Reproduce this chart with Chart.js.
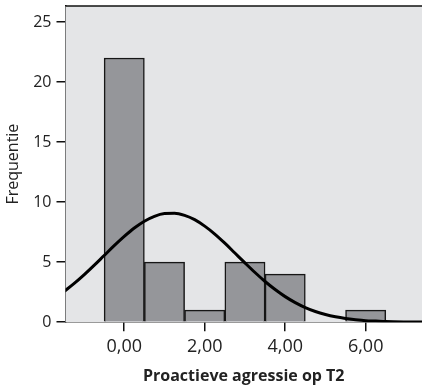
<!DOCTYPE html>
<html>
<head>
<meta charset="utf-8">
<script src="https://cdn.jsdelivr.net/npm/chart.js@4/dist/chart.umd.min.js"></script>
<style>
  html, body { margin: 0; padding: 0; background: #ffffff; }
  #wrap { width: 422px; height: 390px; }
</style>
</head>
<body>
<div id="wrap"><canvas id="c" width="422" height="390"></canvas></div>
<script>
// Histogram bins (value of each bin centre) and their frequencies
const binCentres = [0, 1, 2, 3, 4, 5, 6];
const frequencies = [22, 5, 1, 5, 4, 0, 1];

// Fitted normal curve, sampled along the x axis
const curveX = [-1.5, -1.25, -1, -0.75, -0.5, -0.25, 0, 0.25, 0.5, 0.75, 1, 1.25, 1.5, 1.75,
                2, 2.25, 2.5, 2.75, 3, 3.25, 3.5, 3.75, 4, 4.25, 4.5, 4.75, 5, 5.25, 5.5, 5.75,
                6, 6.25, 6.5, 7, 7.5];
const curveY = [2.55, 3.21, 3.94, 4.73, 5.55, 6.37, 7.14, 7.84, 8.41, 8.82, 9.05, 9.08, 8.90, 8.54,
                8.00, 7.34, 6.58, 5.76, 4.94, 4.14, 3.39, 2.72, 2.13, 1.63, 1.22, 0.89, 0.64, 0.45, 0.31, 0.21,
                0.13, 0.09, 0.05, 0.02, 0.01];

// Axis ticks
const xTickValues = [0, 2, 4, 6];
const xTickLabels = ['0,00', '2,00', '4,00', '6,00'];
const yTickValues = [0, 5, 10, 15, 20, 25];

const FONT = '"Open Sans", "DejaVu Sans", sans-serif';

const plotFrame = {
  id: 'plotFrame',
  beforeDatasetsDraw(chart) {
    const { ctx, chartArea: a } = chart;
    ctx.save();
    ctx.fillStyle = '#e4e5e7';
    ctx.fillRect(a.left, a.top, a.right - a.left, a.bottom - a.top);
    ctx.restore();
  },
  afterDraw(chart) {
    const { ctx, chartArea: a } = chart;
    ctx.save();
    ctx.strokeStyle = '#111111';
    ctx.lineWidth = 1.5;
    ctx.beginPath();
    ctx.moveTo(a.left, a.top);
    ctx.lineTo(a.right, a.top);
    ctx.stroke();
    ctx.restore();
  }
};

new Chart(document.getElementById('c'), {
  data: {
    datasets: [
      {
        type: 'line',
        order: 0,
        data: curveX.map((x, i) => ({ x: x, y: curveY[i] })),
        borderColor: '#000000',
        borderWidth: 3,
        pointRadius: 0,
        fill: false,
        cubicInterpolationMode: 'monotone'
      },
      {
        type: 'bar',
        order: 1,
        data: binCentres.map((x, i) => ({ x: x, y: frequencies[i] })),
        backgroundColor: '#95969a',
        borderColor: '#161616',
        borderWidth: 1.5,
        borderSkipped: 'bottom',
        barPercentage: 1,
        categoryPercentage: 1
      }
    ]
  },
  options: {
    responsive: false,
    animation: false,
    devicePixelRatio: 1,
    layout: { padding: { left: 0, right: 0, top: 0, bottom: 4 } },
    plugins: { legend: { display: false }, tooltip: { enabled: false } },
    scales: {
      x: {
        type: 'linear',
        min: -1.46,
        max: 7.4,
        offset: false,
        afterBuildTicks(scale) { scale.ticks = xTickValues.map(v => ({ value: v })); },
        ticks: {
          color: '#222222',
          font: { family: FONT, size: 18 },
          padding: 5,
          maxRotation: 0,
          callback(value) {
            const i = xTickValues.indexOf(value);
            return i >= 0 ? xTickLabels[i] : '';
          }
        },
        grid: { drawOnChartArea: false, offset: false, color: '#111111', tickLength: 9, lineWidth: 1.5 },
        border: { display: true, color: '#111111', width: 1.5 },
        title: {
          display: true,
          text: 'Proactieve agressie op T2',
          color: '#222222',
          font: { family: FONT, size: 16, weight: 'bold' },
          padding: { top: 4, bottom: 0 }
        }
      },
      y: {
        type: 'linear',
        min: 0,
        max: 26.33,
        afterBuildTicks(scale) { scale.ticks = yTickValues.map(v => ({ value: v })); },
        ticks: {
          color: '#222222',
          font: { family: FONT, size: 16, lineHeight: 0.125 },
          padding: 5
        },
        grid: { drawOnChartArea: false, color: '#111111', tickLength: 9, lineWidth: 1.5 },
        border: { display: true, color: '#111111', width: 1.5 },
        title: {
          display: true,
          text: 'Frequentie',
          color: '#222222',
          font: { family: FONT, size: 16 },
          padding: { top: 4, bottom: 5 }
        }
      }
    }
  },
  plugins: [plotFrame]
});
</script>
</body>
</html>
